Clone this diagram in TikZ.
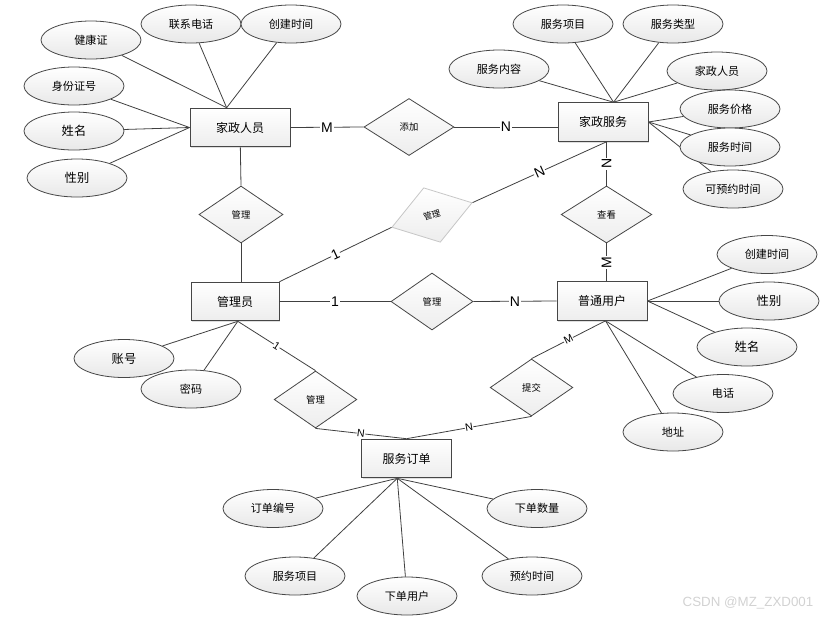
\documentclass[tikz,border=0pt]{standalone}
\usepackage{fontspec}
\setmainfont{Noto Sans CJK SC}
\newfontfamily\lat{Liberation Sans}
\usetikzlibrary{shapes.geometric,shadows,backgrounds}

\begin{document}
\begin{tikzpicture}[x=0.75pt,y=0.75pt,yscale=-1,xscale=1,
  ent/.style={draw=gray!55!black, line width=0.7pt, top color=white, bottom color=gray!14,
    minimum width=75pt, minimum height=29pt, inner sep=0pt,
    drop shadow={shadow xshift=0.9pt, shadow yshift=-0.9pt, opacity=0.25},
    font=\fontsize{9}{10}\selectfont},
  attr/.style={ellipse, draw=gray!55!black, line width=0.6pt, top color=white, bottom color=gray!18,
    minimum width=75pt, minimum height=28.5pt, inner sep=0pt, font=\fontsize{8.3}{10}\selectfont},
  big/.style={font=\fontsize{9.2}{10}\selectfont},
  rel/.style={diamond, draw=gray!55!black, line width=0.6pt, top color=white, bottom color=gray!14,
    minimum width=63pt, minimum height=42.75pt, inner sep=0pt, font=\fontsize{7}{8}\selectfont},
  lnk/.style={draw=gray!50!black, line width=0.6pt},
  lbl/.style={fill=white, inner sep=0.6pt, font=\lat\fontsize{10.5}{11}\selectfont},
  slbl/.style={fill=white, inner sep=0.3pt, font=\lat\fontsize{8}{9}\selectfont}]
\useasboundingbox (0,0) rectangle (832,619);

% Entities
\node[ent] (kzry) at (240,127.5) {家政人员};
\node[ent, minimum width=67.5pt] (jzfw) at (603,122) {家政服务};
\node[ent, minimum width=66pt] (gly) at (235,301.5) {管理员};
\node[ent, minimum width=67.5pt] (ptyh) at (602,301) {普通用户};
\node[ent, minimum width=67pt] (fwdd) at (406.5,458.5) {服务订单};

% Relations
\node[rel, minimum width=67.5pt] (tj) at (409,127) {添加};
\node[rel] (gl1) at (241,214.5) {管理};
\node[rel, draw=gray!45, rotate=17, font=\fontsize{6.5}{7}\selectfont] (gl2) at (432,215) {管理};
\node[rel, minimum width=68pt] (ck) at (606.5,214.5) {查看};
\node[rel, minimum width=61.5pt] (gl3) at (432,301.5) {管理};
\node[rel, minimum width=62pt] (gl4) at (315.5,399.5) {管理};
\node[rel, minimum width=62pt] (tjx) at (531.5,387.5) {提交};

% Attributes of 家政人员
\node[attr] (jkz) at (91,40) {健康证};
\node[attr] (lxdh) at (191,24) {联系电话};
\node[attr] (cjsj1) at (291,24) {创建时间};
\node[attr] (sfzh) at (74,86) {身份证号};
\node[attr, big] (xm1) at (74,131) {姓名};
\node[attr, big] (xb1) at (77,178) {性别};

% Attributes of 家政服务
\node[attr] (fwxm1) at (563,24) {服务项目};
\node[attr] (fwlx) at (673,24) {服务类型};
\node[attr] (fwnr) at (499,69) {服务内容};
\node[attr] (jzry) at (717,71) {家政人员};
\node[attr] (fwjg) at (730,109) {服务价格};
\node[attr] (fwsj) at (730,147) {服务时间};
\node[attr] (kyysj) at (733,189) {可预约时间};

% Attributes of 普通用户
\node[attr] (cjsj2) at (767,254.5) {创建时间};
\node[attr, big] (xb2) at (769,301) {性别};
\node[attr, big] (xm2) at (747,347) {姓名};
\node[attr] (dh) at (723,393.5) {电话};
\node[attr] (dz) at (673,432) {地址};

% Attributes of 管理员
\node[attr, big] (zh) at (124,358.5) {账号};
\node[attr] (mm) at (191,389) {密码};

% Attributes of 服务订单
\node[attr] (ddbh) at (273,508.5) {订单编号};
\node[attr] (xdsl) at (537,508.5) {下单数量};
\node[attr] (fwxm2) at (295,576) {服务项目};
\node[attr] (xdyh) at (407,596) {下单用户};
\node[attr] (ydsj) at (532,576) {预约时间};

\begin{scope}[on background layer]
% Attribute lines
\foreach \a in {jkz,lxdh,cjsj1} \draw[lnk] (\a) -- (kzry.124);
\foreach \a in {sfzh,xm1,xb1} \draw[lnk] (\a) -- (kzry.west);
\foreach \a in {fwnr,fwxm1,fwlx,jzry} \draw[lnk] (\a) -- (jzfw.62);
\foreach \a in {fwjg,fwsj,kyysj} \draw[lnk] (\a) -- (jzfw.east);
\foreach \a in {cjsj2,xb2,xm2} \draw[lnk] (\a) -- (ptyh.east);
\foreach \a in {dh,dz} \draw[lnk] (\a) -- (ptyh.-80);
\foreach \a in {zh,mm} \draw[lnk] (\a) -- (gly.-82);
\foreach \a in {ddbh,xdsl,fwxm2,xdyh,ydsj} \draw[lnk] (\a) -- (fwdd.245);
\end{scope}

% Relation lines
\draw[lnk] (kzry.east) -- node[lbl] {M} (tj.west);
\draw[lnk] (tj.east) -- node[lbl] {N} (tj.east -| jzfw.west);
\draw[lnk] (kzry) -- (gl1.north);
\draw[lnk] (gl1.south) -- (gl1.south |- gly.north);
\draw[lnk] (gly.north east) -- node[lbl, rotate=25] {1} (gl2.west);
\draw[lnk] (gl2.east) -- node[lbl, rotate=24] {N} (ck.north |- jzfw.south);
\draw[lnk] (ck.north |- jzfw.south) -- node[lbl, rotate=90] {N} (ck.north);
\draw[lnk] (ck.south) -- node[lbl, rotate=90] {M} (ck.south |- ptyh.north);
\draw[lnk] (gly.east) -- node[lbl] {1} (gl3.west);
\draw[lnk] (gl3.east) -- node[lbl] {N} (ptyh.west);
\draw[lnk] (gly.-82) -- node[slbl, rotate=-33] {1} (gl4.north);
\draw[lnk] (gl4.south) -- node[slbl, rotate=-7] {N} (fwdd.north);
\draw[lnk] (ptyh.-80) -- node[slbl, rotate=27] {M} (tjx.north);
\draw[lnk] (tjx.south) -- node[slbl, rotate=10] {N} (fwdd.north);

% Watermark
\node[anchor=east, text=gray!35, font=\lat\fontsize{10}{11}\selectfont] (wm) at (818,603) {CSDN @MZ\_ZXD001};

\end{tikzpicture}
\end{document}
